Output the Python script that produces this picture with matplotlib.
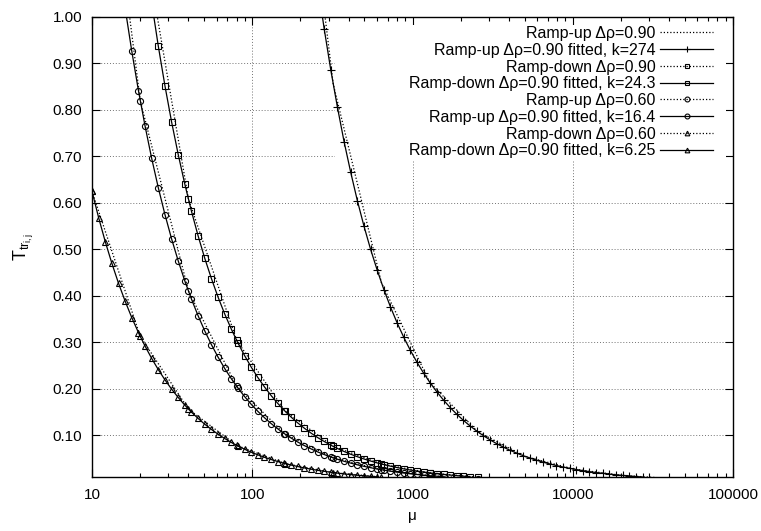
import matplotlib
matplotlib.use("Agg")
import matplotlib.pyplot as plt
from matplotlib.patches import Rectangle
from matplotlib.ticker import FixedLocator, FormatStrFormatter, NullFormatter, LogLocator

plt.rcParams['font.family'] = ['Liberation Sans', 'DejaVu Sans']
plt.rcParams['mathtext.fontset'] = 'custom'
plt.rcParams['mathtext.rm'] = 'Liberation Sans'
plt.rcParams['mathtext.it'] = 'Liberation Sans:italic'

# --- data ---------------------------------------------------------------
# sample points used for the fitted curves
mu_fit = [10, 11, 12.1, 13.31, 14.64, 16.11, 17.72, 19.49, 21.44, 23.58,
          25.94, 28.53, 31.38, 34.52, 37.97, 41.77, 45.95, 50.54, 55.60, 61.16,
          67.27, 74.00, 81.40, 89.54, 98.50, 108.3, 119.2, 131.1, 144.2, 158.6,
          174.5, 191.9, 211.1, 232.3, 255.5, 281.0, 309.1, 340.0, 374.0, 411.4,
          452.6, 497.9, 547.6, 602.4, 662.6, 728.9, 801.8, 882.0, 970.2, 1067,
          1174, 1291, 1421, 1563, 1719, 1891, 2080, 2288, 2517, 2768,
          3045, 3350, 3685, 4053, 4458, 4904, 5395, 5934, 6528, 7180,
          7898, 8688, 9557, 10513, 11564, 12720, 13992, 15392, 16931, 18624,
          20486, 22535, 24788, 27267]

# fitted curves (first index into mu_fit, values)
up90_fit_start = 34
up90_fit = [1.072, 0.975, 0.886, 0.806, 0.732, 0.666, 0.605, 0.550, 0.500, 0.455,
            0.4135, 0.3759, 0.3417, 0.3107, 0.2824, 0.2568, 0.2334, 0.2122, 0.1929, 0.1754,
            0.1594, 0.1450, 0.1318, 0.1198, 0.1089, 0.0990, 0.0900, 0.0818, 0.0744, 0.0676,
            0.0615, 0.0559, 0.0508, 0.0462, 0.0420, 0.0382, 0.0347, 0.0315, 0.0287, 0.0261,
            0.0237, 0.0215, 0.0196, 0.0178, 0.0162, 0.0147, 0.0134, 0.0122, 0.0110, 0.0100]

dn90_fit_start = 9
dn90_fit = [1.0306, 0.9368, 0.8517, 0.7742, 0.7040, 0.6398, 0.5817, 0.5288, 0.4807, 0.4372,
            0.3973, 0.3611, 0.3283, 0.2984, 0.2714, 0.2466, 0.2243, 0.2039, 0.1854, 0.1684,
            0.1531, 0.1392, 0.1266, 0.1152, 0.1047, 0.0950, 0.0865, 0.0785, 0.0714, 0.0649,
            0.0590, 0.0537, 0.0488, 0.0444, 0.0403, 0.0367, 0.0333, 0.0303, 0.0275, 0.0250,
            0.0228, 0.0207, 0.0188, 0.0171, 0.0155, 0.0141, 0.0129, 0.0117, 0.0106]

up60_fit_start = 5
up60_fit = [1.0183, 0.926, 0.8416, 0.7651, 0.6955, 0.6322, 0.5748, 0.5225, 0.4751, 0.4318,
            0.3926, 0.3569, 0.3244, 0.2950, 0.2681, 0.2437, 0.2216, 0.2014, 0.1832, 0.1665,
            0.1514, 0.1376, 0.1251, 0.1137, 0.1033, 0.0940, 0.0854, 0.0777, 0.0707, 0.0641,
            0.0584, 0.0530, 0.0482, 0.0438, 0.0399, 0.0362, 0.0330, 0.0300, 0.0272, 0.0248,
            0.0225, 0.0205, 0.0185, 0.0169, 0.0154, 0.0140, 0.0127, 0.0116, 0.0105]

dn60_fit_start = 0
dn60_fit = [0.625, 0.568, 0.5165, 0.4696, 0.4269, 0.3881, 0.3528, 0.3208, 0.2916, 0.2651,
            0.2409, 0.2191, 0.1991, 0.1811, 0.1646, 0.1496, 0.1360, 0.1236, 0.1124, 0.1022,
            0.0929, 0.0844, 0.0768, 0.0698, 0.0634, 0.0577, 0.0524, 0.0477, 0.0433, 0.0394,
            0.0358, 0.0326, 0.0296, 0.0269, 0.0244, 0.0223, 0.0202, 0.0184, 0.0167, 0.0152,
            0.0138, 0.0126, 0.0114, 0.0104]

# measured points
up90_mu = [160, 320, 640, 1280, 2560, 5120, 10240, 20480, 40960]
up90_T = [1.713, 0.856, 0.428, 0.214, 0.107, 0.0535, 0.0268, 0.0134, 0.0067]
dn90_mu = [20, 40, 80, 160, 320, 640, 1280, 2560]
dn90_T = [1.215, 0.608, 0.304, 0.152, 0.076, 0.038, 0.019, 0.0095]
up60_mu = [10, 20, 40, 80, 160, 320, 640, 1280, 2560]
up60_T = [1.64, 0.82, 0.41, 0.205, 0.1025, 0.0513, 0.0256, 0.0128, 0.0064]
dn60_mu = [10, 20, 40, 80, 160, 320, 640]
dn60_T = [0.625, 0.3125, 0.156, 0.078, 0.039, 0.0195, 0.0098]

labels = [
    "Ramp-up \u0394\u03c1=0.90",
    "Ramp-up \u0394\u03c1=0.90 fitted, k=274",
    "Ramp-down \u0394\u03c1=0.90",
    "Ramp-down \u0394\u03c1=0.90 fitted, k=24.3",
    "Ramp-up \u0394\u03c1=0.60",
    "Ramp-up \u0394\u03c1=0.90 fitted, k=16.4",
    "Ramp-down \u0394\u03c1=0.60",
    "Ramp-down \u0394\u03c1=0.90 fitted, k=6.25",
]

y_ticks = [0.10, 0.20, 0.30, 0.40, 0.50, 0.60, 0.70, 0.80, 0.90, 1.00]
x_ticks = [10, 100, 1000, 10000, 100000]

# --- plot ---------------------------------------------------------------
fig = plt.figure(figsize=(7.61, 5.31), dpi=100)
ax = fig.add_axes([92 / 761, 1 - 477 / 531, 641 / 761, 460 / 531])

dot = (0, (1, 1.6))
mk = dict(color="black", lw=0.9, mfc="none", mec="black", mew=0.8)

def fit_x(start, vals):
    return mu_fit[start:start + len(vals)]

handles = []
h, = ax.plot(up90_mu, up90_T, ls=dot, **mk); handles.append(h)
h, = ax.plot(fit_x(up90_fit_start, up90_fit), up90_fit, ls="-", marker="+", ms=6, **mk); handles.append(h)
h, = ax.plot(dn90_mu, dn90_T, ls=dot, marker="s", ms=4.2, **mk); handles.append(h)
h, = ax.plot(fit_x(dn90_fit_start, dn90_fit), dn90_fit, ls="-", marker="s", ms=4.2, **mk); handles.append(h)
h, = ax.plot(up60_mu, up60_T, ls=dot, marker="o", ms=4.4, **mk); handles.append(h)
h, = ax.plot(fit_x(up60_fit_start, up60_fit), up60_fit, ls="-", marker="o", ms=4.4, **mk); handles.append(h)
h, = ax.plot(dn60_mu, dn60_T, ls=dot, marker="^", ms=4.2, **mk); handles.append(h)
h, = ax.plot(fit_x(dn60_fit_start, dn60_fit), dn60_fit, ls="-", marker="^", ms=4.2, **mk); handles.append(h)

ax.set_xscale("log")
ax.set_xlim(10, 100000)
ax.set_ylim(0.01, 1.0)

ax.xaxis.set_major_locator(FixedLocator(x_ticks))
ax.xaxis.set_major_formatter(FormatStrFormatter("%d"))
ax.xaxis.set_minor_locator(LogLocator(base=10, subs=range(2, 10)))
ax.xaxis.set_minor_formatter(NullFormatter())
ax.yaxis.set_major_locator(FixedLocator(y_ticks))
ax.yaxis.set_major_formatter(FormatStrFormatter("%.2f"))

ax.tick_params(which="both", direction="in", top=True, right=True,
               labelsize=11, colors="black")
ax.tick_params(which="major", length=5.5, width=0.8)
ax.tick_params(which="minor", length=2.8, width=0.8)
ax.tick_params(axis="x", pad=8)
ax.tick_params(axis="y", pad=7)

ax.grid(True, which="major", color="0.45", ls=(0, (1, 2)), lw=0.7)
ax.set_axisbelow(True)
for sp in ax.spines.values():
    sp.set_linewidth(1.0)
    sp.set_zorder(5)

# opaque key box hides the grid behind the legend
ax.add_patch(Rectangle(((335 - 92) / 641, (477 - 160) / 460),
                       (726 - 335) / 641, (160 - 25) / 460,
                       transform=ax.transAxes, facecolor="white",
                       edgecolor="none", zorder=1))

ax.set_xlabel("\u03bc", fontsize=11, labelpad=5)
ax.set_ylabel(r"$\mathrm{T}_{\mathrm{tr}_{\mathrm{i,j}}}$", fontsize=13, labelpad=12)

leg = ax.legend(handles, labels, loc="upper right", markerfirst=False,
                frameon=False, fontsize=11.5, handlelength=3.3, handletextpad=0.3,
                labelspacing=0.11, borderpad=0, borderaxespad=0, numpoints=1,
                markerscale=0.8,
                bbox_to_anchor=((713 - 92) / 641, (477 - 26) / 460))
leg.set_zorder(6)

fig.savefig("out.png", dpi=100)
